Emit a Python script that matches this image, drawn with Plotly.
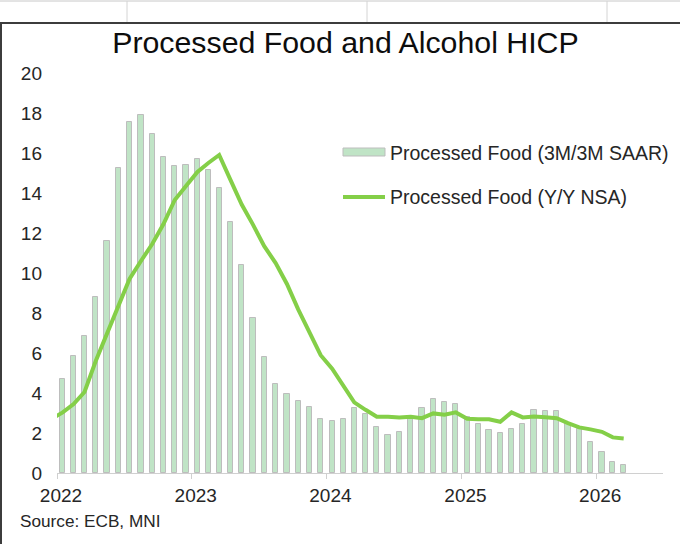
import pandas as pd
import plotly.graph_objects as go

# ---- data ----
bar_months = pd.date_range("2022-01-01", periods=51, freq="MS")
line_months = pd.date_range("2021-12-01", periods=52, freq="MS")

saar_3m3m = [4.72, 5.85, 6.83, 8.78, 11.6, 15.25, 17.57, 17.9, 16.96, 15.78,
             15.33, 15.4, 15.68, 15.16, 14.25, 12.53, 10.41, 7.73, 5.79, 4.44,
             3.94, 3.6, 3.28, 2.7, 2.6, 2.7, 3.23, 2.93, 2.32, 1.88,
             2.05, 2.7, 3.27, 3.71, 3.55, 3.43, 2.8, 2.43, 2.15, 1.99,
             2.22, 2.43, 3.16, 3.09, 3.09, 2.5, 2.19, 1.53, 1.03, 0.53, 0.41]

yy_nsa = [2.7, 3.03, 3.45, 4.05, 5.6, 7.0, 8.35, 9.7, 10.6, 11.45,
          12.45, 13.65, 14.35, 15.05, 15.5, 15.9, 14.66, 13.42, 12.42, 11.34,
          10.5, 9.45, 8.18, 7.02, 5.89, 5.22, 4.35, 3.53, 3.16, 2.81,
          2.81, 2.78, 2.81, 2.74, 2.98, 2.91, 3.03, 2.71, 2.69, 2.69,
          2.56, 3.03, 2.78, 2.83, 2.79, 2.74, 2.49, 2.28, 2.18, 2.06,
          1.78, 1.73]

year_ticks = ["2022-01-01", "2023-01-01", "2024-01-01", "2025-01-01", "2026-01-01"]
year_labels = ["2022", "2023", "2024", "2025", "2026"]
y_ticks = [0, 2, 4, 6, 8, 10, 12, 14, 16, 18, 20]

bar_name = "Processed Food (3M/3M SAAR)"
line_name = "Processed Food (Y/Y NSA)"

BAR_FILL = "#c0e4c6"
BAR_EDGE = "#bdbdbd"
LINE_COL = "#84cf48"
FONT = "Liberation Sans, Arial, sans-serif"

# ---- layout geometry (pixels) ----
W, H = 680, 544
PL, PR, PT, PB = 57, 663, 73, 473
def px(x):
    return (x - PL) / (PR - PL)
def py(y):
    return (PB - y) / (PB - PT)

fig = go.Figure()
fig.add_trace(go.Bar(
    x=bar_months, y=saar_3m3m, name=bar_name,
    xperiod="M1", xperiodalignment="middle",
    width=0.46 * 30.4 * 86400000,
    marker=dict(color=BAR_FILL, line=dict(color=BAR_EDGE, width=1)),
    showlegend=False,
))
fig.add_trace(go.Scatter(
    x=line_months, y=yy_nsa, name=line_name, mode="lines",
    xperiod="M1", xperiodalignment="middle",
    line=dict(color=LINE_COL, width=4),
    showlegend=False,
))

shapes = []
annotations = []

# manual legend
shapes.append(dict(type="rect", xref="paper", yref="paper",
                   x0=px(343), x1=px(385), y0=py(156), y1=py(148),
                   fillcolor=BAR_FILL, line=dict(color=BAR_EDGE, width=1)))
shapes.append(dict(type="line", xref="paper", yref="paper",
                   x0=px(343), x1=px(385), y0=py(197), y1=py(197),
                   line=dict(color=LINE_COL, width=4)))
annotations.append(dict(xref="paper", yref="paper", x=px(388), y=py(153),
                        text=bar_name, showarrow=False, xanchor="left", yanchor="middle",
                        font=dict(family=FONT, size=19.5, color="#262626")))
annotations.append(dict(xref="paper", yref="paper", x=px(388), y=py(197),
                        text=line_name, showarrow=False, xanchor="left", yanchor="middle",
                        font=dict(family=FONT, size=19.5, color="#262626")))
# source
annotations.append(dict(xref="paper", yref="paper", x=px(18), y=py(521),
                        text="Source: ECB, MNI", showarrow=False, xanchor="left", yanchor="middle",
                        font=dict(family=FONT, size=17.2, color="#262626")))

# spreadsheet frame
shapes.append(dict(type="line", xref="paper", yref="paper", x0=px(0), x1=px(680),
                   y0=py(1), y1=py(1), line=dict(color="#c8c8c8", width=1)))
for cx in [127, 367, 607]:
    shapes.append(dict(type="line", xref="paper", yref="paper", x0=px(cx), x1=px(cx),
                       y0=py(1), y1=py(22), line=dict(color="#d4d4d4", width=1)))
shapes.append(dict(type="line", xref="paper", yref="paper", x0=px(0), x1=px(680),
                   y0=py(23), y1=py(23), line=dict(color="#3c3c3c", width=2)))
shapes.append(dict(type="line", xref="paper", yref="paper", x0=px(1), x1=px(1),
                   y0=py(23), y1=py(544), line=dict(color="#3c3c3c", width=2)))

fig.update_layout(
    width=W, height=H,
    margin=dict(l=PL, r=W - PR, t=PT, b=H - PB, pad=0),
    paper_bgcolor="white", plot_bgcolor="white",
    title=dict(text="Processed Food and Alcohol HICP", x=0.508, xanchor="center",
               y=1 - 42 / H, yanchor="middle",
               font=dict(family=FONT, size=30.3, color="#0d0d0d")),
    font=dict(family=FONT, size=19, color="#262626"),
    bargap=0,
    shapes=shapes, annotations=annotations,
    xaxis=dict(type="date", range=["2022-01-01", "2026-07-01"],
               tickvals=year_ticks, ticktext=year_labels,
               ticks="outside", ticklen=5, tickcolor="#d0d0d0",
               showline=True, linecolor="#d0d0d0", linewidth=1,
               showgrid=False, zeroline=False,
               ticklabelshift=4,
               tickfont=dict(family=FONT, size=19, color="#262626")),
    yaxis=dict(range=[0, 20], tickvals=y_ticks, ticks="",
               showline=False, showgrid=False, zeroline=False,
               ticklabelstandoff=14,
               tickfont=dict(family=FONT, size=19, color="#262626")),
)

fig.write_html("out.html", config={"displayModeBar": False},
               post_script="document.body.style.margin='0';")
